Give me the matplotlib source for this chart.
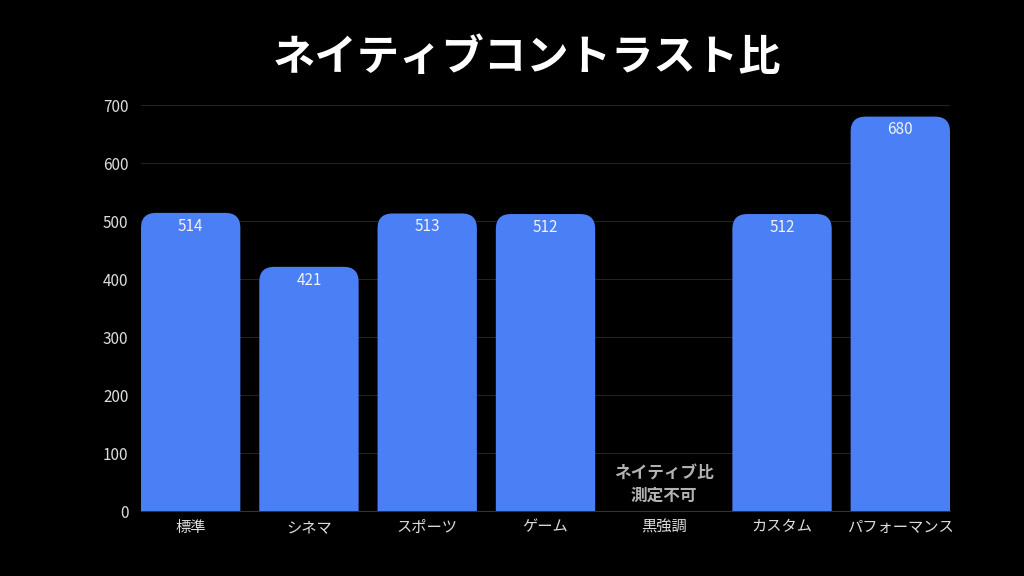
import matplotlib
matplotlib.use("Agg")
import matplotlib.pyplot as plt
import numpy as np
from matplotlib.patches import FancyBboxPatch

plt.rcParams["font.family"] = ["Noto Sans CJK JP", "DejaVu Sans"]

categories = ["標準", "シネマ", "スポーツ", "ゲーム", "黒強調", "カスタム", "パフォーマンス"]
values = [514, 421, 513, 512, np.nan, 512, 680]
y_ticks = [0, 100, 200, 300, 400, 500, 600, 700]
title = "ネイティブコントラスト比"
missing_note = "ネイティブ比\n測定不可"

bar_color = "#4a7ff5"
bg = "#000000"

fig = plt.figure(figsize=(10.24, 5.76), dpi=100, facecolor=bg)
ax = fig.add_axes([141 / 1024, 1 - 511 / 576, (950 - 141) / 1024, (511 - 105) / 576])
ax.set_facecolor(bg)

x = np.arange(len(categories))
width = 0.84
ax.set_xlim(-0.5 + (1 - width) / 2, len(categories) - 0.5 - (1 - width) / 2)
ax.set_ylim(0, 700)

# rounded tops: radius in pixels converted to data units
radius_px = 15
ax_w_px = (950 - 141)
ax_h_px = (511 - 105)
x_per_px = (ax.get_xlim()[1] - ax.get_xlim()[0]) / ax_w_px
y_per_px = 700 / ax_h_px
r_x = radius_px * x_per_px
aspect = y_per_px / x_per_px

for xi, v in zip(x, values):
    if np.isnan(v):
        ax.text(xi, 46, missing_note, ha="center", va="center", color="#b3b3b3",
                fontsize=12, fontweight="bold", linespacing=1.3)
        continue
    pad_bottom = 40
    patch = FancyBboxPatch((xi - width / 2, -pad_bottom), width, v + pad_bottom,
                           boxstyle=f"round,pad=0,rounding_size={r_x}",
                           mutation_aspect=aspect, facecolor=bar_color,
                           edgecolor="none", zorder=3)
    ax.add_patch(patch)
    ax.annotate(f"{v:.0f}", (xi, v), xytext=(0, -3.5), textcoords="offset points",
                ha="center", va="top", color="#f2f2f2", fontsize=11, zorder=4)

ax.set_yticks(y_ticks)
ax.set_xticks(x)
ax.set_xticklabels(categories)
ax.grid(axis="y", color="#222222", linewidth=0.8, zorder=0)
ax.tick_params(axis="both", length=0, colors="#dddddd", labelsize=11)
ax.tick_params(axis="x", pad=5.5)
ax.tick_params(axis="y", pad=9)
for side in ["top", "right", "left"]:
    ax.spines[side].set_visible(False)
ax.spines["bottom"].set_color("#333333")
ax.spines["bottom"].set_linewidth(0.8)

fig.text(527 / 1024, 1 - 58 / 576, title, ha="center", va="center",
         color="white", fontsize=30.5, fontweight="bold")

fig.savefig("out.png", dpi=100, facecolor=bg)
